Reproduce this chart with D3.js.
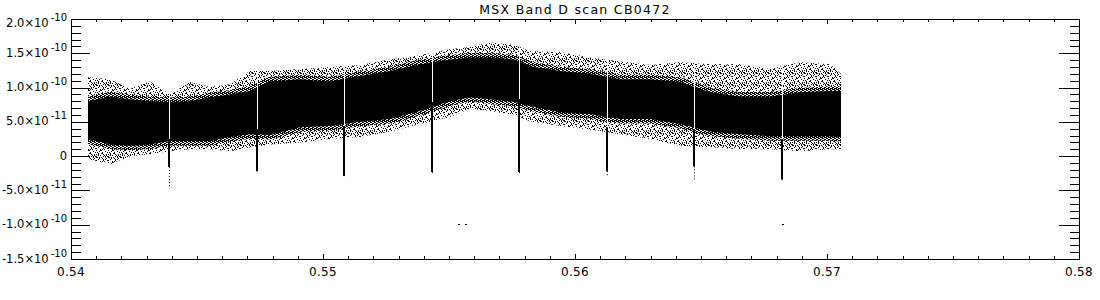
<!DOCTYPE html>
<meta charset="utf-8">
<style>
  body {
    margin: 0;
    background: #fff;
    font-family: "DejaVu Sans", sans-serif;
  }
  text {
    fill: #000;
  }
  .axis path, .axis line {
    stroke: #000;
    shape-rendering: crispEdges;
  }
</style>

<body>

  <div id="chart"></div>

  <script src="https://cdn.jsdelivr.net/npm/d3@7"></script>

  <script>

    // envelope of the scan (x in scan units, y in W/cm2)
    var scanX = [0.54067, 0.54155, 0.54234, 0.54313, 0.54393, 0.54472, 0.54552, 0.54631,
                 0.54710, 0.54790, 0.54909, 0.55028, 0.55147, 0.55266, 0.55385, 0.55504,
                 0.55583, 0.55663, 0.55762, 0.55821, 0.55940, 0.56060, 0.56179, 0.56298,
                 0.56417, 0.56536, 0.56655, 0.56774, 0.56893, 0.57012, 0.57056];

    // outer scatter (sparse points), in units of 1e-11
    var sparseTop = [11.5, 11.2, 9.8, 10.9, 9.0, 10.8, 10.1, 10.5,
                     12.4, 12.4, 12.7, 13.0, 13.3, 14.1, 14.7, 15.6,
                     15.9, 16.6, 16.2, 15.3, 15.2, 14.4, 13.8, 13.3,
                     13.7, 13.4, 13.4, 12.7, 13.7, 13.4, 12.0];
    var sparseBot = [-0.4, -1.2, 0.0, 0.3, 0.7, 1.0, 1.0, 0.7,
                     1.3, 1.7, 2.0, 2.5, 2.8, 3.6, 4.7, 5.7,
                     6.9, 6.6, 6.0, 5.1, 4.4, 3.9, 3.2, 2.5,
                     1.5, 1.3, 1.0, 1.0, 0.7, 1.0, 1.0];

    // solid core of the noise band, in units of 1e-11
    var denseTop = [8.0, 8.7, 8.3, 8.0, 7.9, 8.0, 8.6, 9.0,
                    9.5, 10.9, 11.2, 10.9, 11.7, 12.4, 13.4, 14.1,
                    14.4, 14.4, 14.1, 13.1, 12.4, 12.0, 11.2, 11.2,
                    10.8, 9.3, 8.7, 8.7, 9.3, 9.5, 9.5];
    var denseBot = [2.5, 1.7, 1.5, 1.7, 2.2, 2.2, 2.2, 2.8,
                    3.2, 3.1, 4.2, 4.4, 5.0, 5.4, 6.6, 8.0,
                    8.6, 8.3, 7.9, 7.3, 6.4, 6.1, 5.4, 5.4,
                    4.7, 3.6, 3.2, 2.9, 2.9, 2.9, 2.8];

    // negative dips (gaps) along the scan, units of 1e-11
    var dipX = [0.543889, 0.547381, 0.550833, 0.554325, 0.557778, 0.561270, 0.564722, 0.568214];
    var dipTop = [2.5, 3.9, 4.4, 7.9, 8.3, 4.2, 3.9, 2.5];
    var dipMin = [-1.6, -2.2, -2.9, -2.3, -2.3, -2.2, -1.5, -3.4];
    var dipTail = [-4.5, -2.2, -2.9, -2.5, -2.5, -2.9, -3.4, -3.5];

    // stray points
    var strayX = [0.555357, 0.555635, 0.568214];
    var strayY = [-9.9, -9.9, -9.9];

    var xTicks = [0.54, 0.55, 0.56, 0.57, 0.58],
        xTickLabels = ["0.54", "0.55", "0.56", "0.57", "0.58"],
        yTicks = [-1.5e-10, -1.0e-10, -5.0e-11, 0, 5.0e-11, 1.0e-10, 1.5e-10, 2.0e-10],
        yTickBase = ["-1.5×10", "-1.0×10", "-5.0×10", "0", "5.0×10", "1.0×10", "1.5×10", "2.0×10"],
        yTickExp = ["-10", "-10", "-11", "", "-11", "-10", "-10", "-10"];

    var title = "MSX Band D scan CB0472";

    var width = 1100,
        height = 300,
        box = {left: 71, right: 1079, top: 19, bottom: 259},
        unit = 1e-11;

    var x = d3.scaleLinear()
              .domain([0.54, 0.58])
              .range([box.left, box.right]),
        y = d3.scaleLinear()
              .domain([-1.5e-10, 2.0e-10])
              .range([box.bottom, box.top]);

    var svg = d3.select("#chart").append("svg")
                  .attr("width", width)
                  .attr("height", height);

    var defs = svg.append("defs");

    // sparse speckle for the outer scatter
    var pat = defs.append("pattern")
                  .attr("id", "speck")
                  .attr("patternUnits", "userSpaceOnUse")
                  .attr("width", 12)
                  .attr("height", 12);
    [[0, 0, 2], [5, 1, 1], [9, 0, 2], [2, 3, 1], [7, 3, 2], [11, 4, 1], [4, 5, 2], [0, 6, 1],
     [9, 7, 1], [6, 8, 2], [2, 9, 2], [10, 10, 2], [4, 11, 1], [8, 11, 1], [1, 1, 1], [3, 7, 1],
     [11, 8, 1], [6, 5, 1], [7, 0, 1], [3, 1, 2], [10, 2, 1], [0, 4, 1], [5, 6, 1], [8, 5, 1],
     [1, 8, 1], [7, 10, 1], [11, 0, 1], [5, 9, 1], [9, 3, 1], [2, 11, 1], [0, 10, 1], [6, 2, 1]]
      .forEach(function(r) {
        pat.append("rect")
          .attr("x", r[0]).attr("y", r[1])
          .attr("width", 1).attr("height", r[2])
          .attr("fill", "#000");
      });

    // heavier speckle hugging the solid core
    var halo = defs.append("pattern")
                  .attr("id", "halo")
                  .attr("patternUnits", "userSpaceOnUse")
                  .attr("width", 4)
                  .attr("height", 4);
    halo.append("rect").attr("width", 4).attr("height", 4).attr("fill", "#000");
    [[1, 0], [3, 1], [0, 2], [2, 3], [3, 3], [1, 2]].forEach(function(p) {
      halo.append("rect")
        .attr("x", p[0]).attr("y", p[1])
        .attr("width", 1).attr("height", 1)
        .attr("fill", "#fff");
    });

    defs.append("clipPath")
        .attr("id", "scanclip")
      .append("rect")
        .attr("x", x(scanX[0]))
        .attr("y", box.top)
        .attr("width", x(scanX[scanX.length - 1]) - x(scanX[0]))
        .attr("height", box.bottom - box.top);

    var rows = scanX.map(function(d, i) {
      return {x: d, st: sparseTop[i], sb: sparseBot[i], dt: denseTop[i], db: denseBot[i]};
    });

    var sparseArea = d3.area()
                        .x(function(d) { return x(d.x); })
                        .y0(function(d) { return y(d.sb * unit); })
                        .y1(function(d) { return y(d.st * unit); }),
        denseArea = d3.area()
                        .x(function(d) { return x(d.x); })
                        .y0(function(d) { return y(d.db * unit); })
                        .y1(function(d) { return y(d.dt * unit); });

    var g = svg.append("g")
                .attr("clip-path", "url(#scanclip)");

    g.append("path")
      .attr("d", sparseArea(rows))
      .attr("fill", "url(#speck)");

    g.append("path")
      .attr("d", denseArea(rows))
      .attr("fill", "#000")
      .attr("stroke", "url(#halo)")
      .attr("stroke-width", 9)
      .attr("stroke-linejoin", "round");

    g.append("path")
      .attr("d", denseArea(rows))
      .attr("fill", "#000");

    var dips = dipX.map(function(d, i) {
      return {x: d, top: dipTop[i], min: dipMin[i], tail: dipTail[i]};
    });

    var marks = svg.append("g");

    // white gap through the band above each dip
    marks.selectAll("line.gap")
        .data(dips)
      .enter().append("line")
        .attr("class", "gap")
        .attr("x1", function(d) { return Math.round(x(d.x)) + 0.5; })
        .attr("x2", function(d) { return Math.round(x(d.x)) + 0.5; })
        .attr("y1", y(2.0e-10) + 2)
        .attr("y2", function(d) { return y(d.top * unit); })
        .attr("stroke", "#fff")
        .attr("stroke-width", 1);

    marks.selectAll("line.dip")
        .data(dips)
      .enter().append("line")
        .attr("class", "dip")
        .attr("x1", function(d) { return Math.round(x(d.x)); })
        .attr("x2", function(d) { return Math.round(x(d.x)); })
        .attr("y1", function(d) { return y(d.top * unit); })
        .attr("y2", function(d) { return y(d.min * unit); })
        .attr("stroke", "#000")
        .attr("stroke-width", 2);

    marks.selectAll("line.tail")
        .data(dips)
      .enter().append("line")
        .attr("class", "tail")
        .attr("x1", function(d) { return Math.round(x(d.x)) + 0.5; })
        .attr("x2", function(d) { return Math.round(x(d.x)) + 0.5; })
        .attr("y1", function(d) { return y(d.min * unit); })
        .attr("y2", function(d) { return y(d.tail * unit); })
        .attr("stroke", "#000")
        .attr("stroke-width", 1)
        .attr("stroke-dasharray", "1,2");

    marks.selectAll("rect.stray")
        .data(strayX)
      .enter().append("rect")
        .attr("class", "stray")
        .attr("x", function(d) { return Math.round(x(d)); })
        .attr("y", function(d, i) { return Math.round(y(strayY[i] * unit)); })
        .attr("width", 2)
        .attr("height", 1)
        .attr("fill", "#000");

    // axes, IDL style: ticks on all four sides pointing inward
    function minorTicks(majors, n) {
      var out = [];
      for (var i = 0; i < majors.length - 1; i++) {
        var step = (majors[i + 1] - majors[i]) / n;
        for (var j = 1; j < n; j++) out.push(majors[i] + j * step);
      }
      return out;
    }

    var xMinor = minorTicks(xTicks, 10),
        yMinor = minorTicks(yTicks, 5);

    function addAxis(axis, tx, ty) {
      svg.append("g")
        .attr("class", "axis")
        .attr("transform", "translate(" + tx + "," + ty + ")")
        .call(axis)
        .call(function(s) { s.selectAll("text").remove(); s.select(".domain").remove(); });
    }

    addAxis(d3.axisBottom(x).tickValues(xTicks).tickSize(-5), 0, box.bottom);
    addAxis(d3.axisBottom(x).tickValues(xMinor).tickSize(-3), 0, box.bottom);
    addAxis(d3.axisTop(x).tickValues(xTicks).tickSize(-5), 0, box.top);
    addAxis(d3.axisTop(x).tickValues(xMinor).tickSize(-3), 0, box.top);
    addAxis(d3.axisLeft(y).tickValues(yTicks).tickSize(-19), box.left, 0);
    addAxis(d3.axisLeft(y).tickValues(yMinor).tickSize(-10), box.left, 0);
    addAxis(d3.axisRight(y).tickValues(yTicks).tickSize(-20), box.right, 0);
    addAxis(d3.axisRight(y).tickValues(yMinor).tickSize(-9), box.right, 0);

    svg.append("rect")
      .attr("x", box.left + 0.5)
      .attr("y", box.top + 0.5)
      .attr("width", box.right - box.left)
      .attr("height", box.bottom - box.top)
      .attr("fill", "none")
      .attr("stroke", "#000")
      .attr("shape-rendering", "crispEdges");

    // tick labels
    svg.selectAll("text.xlab")
        .data(xTicks)
      .enter().append("text")
        .attr("class", "xlab")
        .attr("x", function(d) { return x(d); })
        .attr("y", box.bottom + 17)
        .attr("text-anchor", "middle")
        .style("font-size", "12px")
        .style("letter-spacing", "0.3px")
        .text(function(d, i) { return xTickLabels[i]; });

    var ylab = svg.selectAll("text.ylab")
        .data(yTicks)
      .enter().append("text")
        .attr("class", "ylab")
        .attr("x", 67)
        .attr("y", function(d, i) { return y(d) + (i === yTicks.length - 1 ? 8 : 3.5); })
        .attr("text-anchor", "end")
        .style("font-size", "11.5px");

    ylab.append("tspan")
      .text(function(d, i) { return yTickBase[i]; });
    ylab.append("tspan")
      .attr("dx", 2)
      .attr("dy", -6)
      .style("font-size", "10px")
      .text(function(d, i) { return yTickExp[i]; });

    svg.append("text")
      .attr("x", (box.left + box.right) / 2)
      .attr("y", 14)
      .attr("text-anchor", "middle")
      .style("font-size", "12.5px")
      .style("letter-spacing", "1.3px")
      .text(title);

  </script>

</body>
